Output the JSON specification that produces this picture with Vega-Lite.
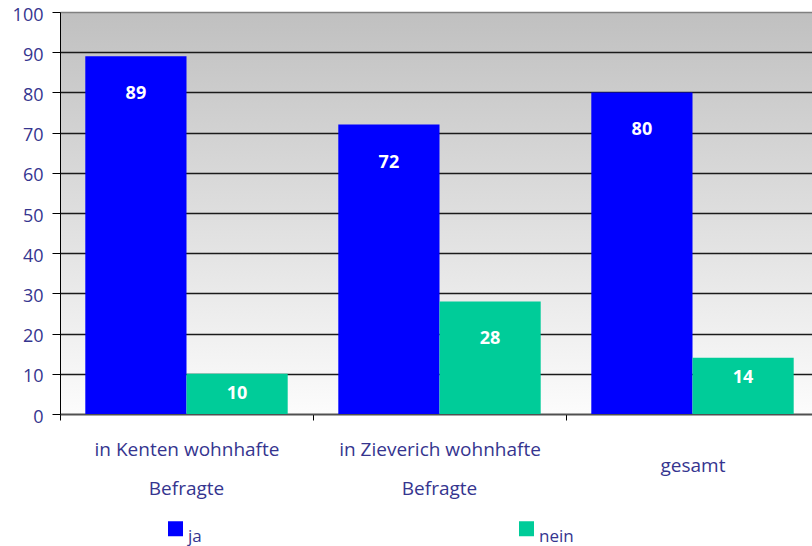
{
  "$schema": "https://vega.github.io/schema/vega-lite/v6.json",
  "width": 752,
  "height": 402,
  "autosize": {"type": "none"},
  "padding": {"left": 60, "top": 12, "right": 0, "bottom": 132},
  "background": "white",
  "config": {
    "font": "Open Sans",
    "view": {
      "stroke": null,
      "fill": {"gradient": "linear", "x1": 0, "y1": 0, "x2": 0, "y2": 1,
        "stops": [{"offset": 0, "color": "#c0c0c0"}, {"offset": 1, "color": "#fcfcfc"}]}
    }
  },
  "data": {
    "values": [
      {"cat": "in Kenten wohnhafte Befragte", "answer": "ja", "value": 89},
      {"cat": "in Kenten wohnhafte Befragte", "answer": "nein", "value": 10},
      {"cat": "in Zieverich wohnhafte Befragte", "answer": "ja", "value": 72},
      {"cat": "in Zieverich wohnhafte Befragte", "answer": "nein", "value": 28},
      {"cat": "gesamt", "answer": "ja", "value": 80},
      {"cat": "gesamt", "answer": "nein", "value": 14}
    ]
  },
  "encoding": {
    "xOffset": {"field": "answer", "type": "nominal", "sort": ["ja", "nein"], "scale": {"paddingInner": 0, "paddingOuter": 0.25}},
    "y": {
      "field": "value", "type": "quantitative",
      "scale": {"domain": [0, 100], "nice": false},
      "axis": {
        "title": null, "values": [0, 10, 20, 30, 40, 50, 60, 70, 80, 90, 100],
        "labelFontSize": 18, "labelColor": "#35358f", "labelPadding": 9, "labelOffset": 3,
        "tickSize": 8, "tickColor": "black", "domainColor": "black",
        "grid": true,
        "gridColor": {"condition": {"test": "datum.value == 100", "value": "#808080"}, "value": "#1a1a1a"},
        "gridWidth": 1.5, "gridOpacity": 1
      }
    }
  },
  "resolve": {"axis": {"x": "independent"}},
  "layer": [
    {
      "mark": {"type": "bar"},
      "encoding": {
        "x": {
          "field": "cat", "type": "nominal", "sort": null,
          "scale": {"range": [0, 759], "paddingInner": 0, "paddingOuter": 0},
          "axis": {
            "orient": "bottom", "title": null, "labelAngle": 0, "labelFontSize": 19, "labelColor": "#35358f",
            "labelExpr": "datum.label == 'gesamt' ? 'gesamt' : replace(datum.label, ' Befragte', '')",
            "labelBaseline": "middle",
            "labelPadding": {"condition": {"test": "datum.label == 'gesamt'", "value": 45}, "value": 29},
            "tickBand": "extent", "tickSize": 6, "tickColor": "black", "domainColor": "#505050", "domainWidth": 1.5,
            "labelLimit": 300, "grid": false
          }
        },
        "color": {
          "field": "answer", "type": "nominal",
          "scale": {"domain": ["ja", "nein"], "range": ["#0000ff", "#00cc99"]},
          "legend": {
            "title": null, "orient": "none", "direction": "horizontal",
            "legendX": 107, "legendY": 508, "symbolType": "square", "symbolSize": 225,
            "symbolStrokeWidth": 0, "symbolOpacity": 1, "labelFontSize": 17,
            "labelColor": "#35358f", "labelBaseline": "top", "columnPadding": 295,
            "gridAlign": "all", "padding": 0
          }
        }
      }
    },
    {
      "transform": [{"filter": "datum.value >= 20"}],
      "mark": {"type": "text", "color": "white", "fontWeight": "bold", "fontSize": 18, "baseline": "middle", "dy": 38},
      "encoding": {
        "x": {"field": "cat", "type": "nominal", "sort": null, "axis": null},
        "text": {"field": "value", "type": "quantitative"}
      }
    },
    {
      "transform": [{"filter": "datum.value < 20"}],
      "mark": {"type": "text", "color": "white", "fontWeight": "bold", "fontSize": 18, "baseline": "middle", "dy": 20},
      "encoding": {
        "x": {
          "field": "cat", "type": "nominal", "sort": null,
          "axis": {
            "orient": "bottom", "title": null, "labelAngle": 0, "labelFontSize": 19, "labelColor": "#35358f",
            "labelExpr": "datum.label == 'gesamt' ? '' : 'Befragte'",
            "labelBaseline": "middle", "labelPadding": 74,
            "ticks": false, "domain": false, "grid": false, "labelLimit": 300
          }
        },
        "text": {"field": "value", "type": "quantitative"}
      }
    }
  ]
}
